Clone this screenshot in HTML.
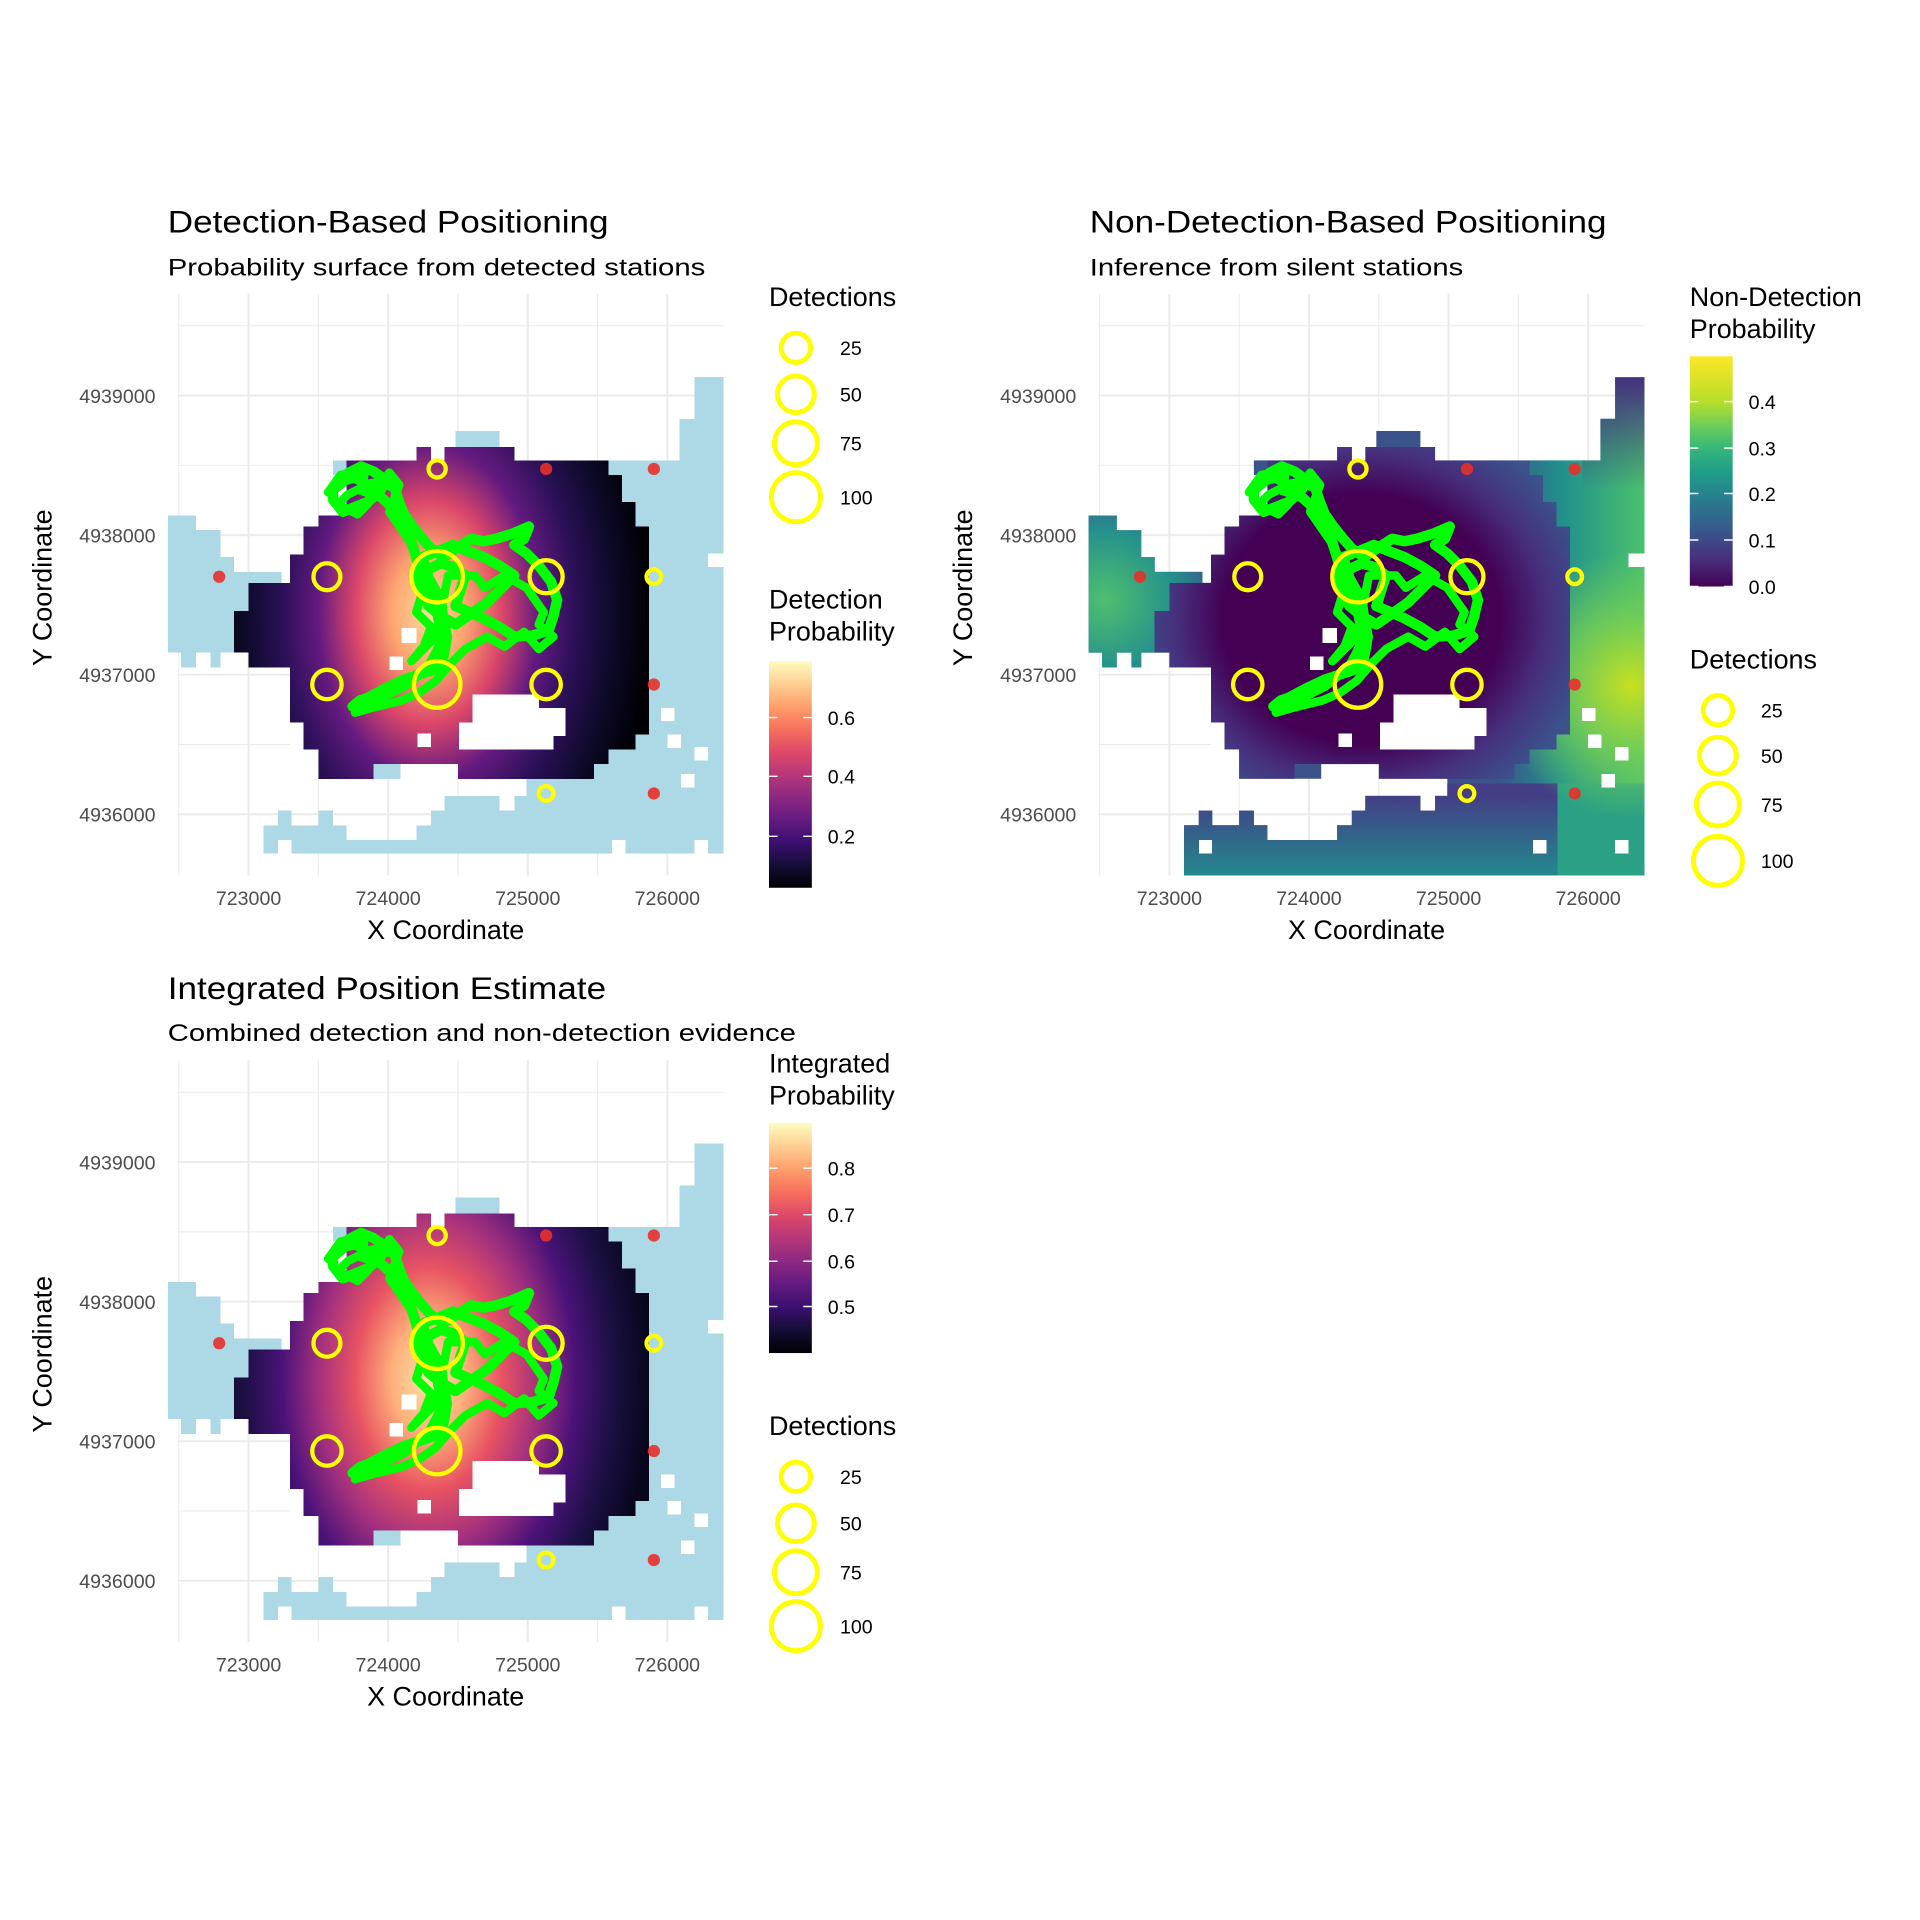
<!DOCTYPE html>
<html><head><meta charset="utf-8"><style>
html,body{margin:0;padding:0;background:#fff;}
svg{display:block;font-family:"Liberation Sans",sans-serif;}
</style></head><body>
<svg width="1920" height="1920" viewBox="0 0 1568 1568" xmlns="http://www.w3.org/2000/svg" xmlns:xlink="http://www.w3.org/1999/xlink">
<defs>
<linearGradient id="mag" x1="0" y1="1" x2="0" y2="0">
<stop offset="0" stop-color="#000004"/><stop offset="0.1" stop-color="#140e36"/><stop offset="0.2" stop-color="#3b0f70"/><stop offset="0.3" stop-color="#641a80"/><stop offset="0.4" stop-color="#8c2981"/><stop offset="0.5" stop-color="#b73779"/><stop offset="0.6" stop-color="#de4968"/><stop offset="0.7" stop-color="#f7705c"/><stop offset="0.8" stop-color="#fe9f6d"/><stop offset="0.9" stop-color="#fecf92"/><stop offset="1" stop-color="#fcfdbf"/>
</linearGradient>
<linearGradient id="vir" x1="0" y1="1" x2="0" y2="0">
<stop offset="0" stop-color="#440154"/><stop offset="0.1" stop-color="#482878"/><stop offset="0.2" stop-color="#3e4a89"/><stop offset="0.3" stop-color="#31688e"/><stop offset="0.4" stop-color="#26828e"/><stop offset="0.5" stop-color="#1f9e89"/><stop offset="0.6" stop-color="#35b779"/><stop offset="0.7" stop-color="#6ece58"/><stop offset="0.8" stop-color="#b5de2b"/><stop offset="1" stop-color="#fde725"/>
</linearGradient>
<radialGradient id="rg1" gradientUnits="userSpaceOnUse" cx="350" cy="500" r="273" gradientTransform="translate(350,500) scale(0.66,1) translate(-350,-500)">
<stop offset="0" stop-color="#fdd9a0"/><stop offset="0.167" stop-color="#fea66f"/><stop offset="0.333" stop-color="#db4769"/><stop offset="0.5" stop-color="#641a80"/><stop offset="0.667" stop-color="#2a1057"/><stop offset="0.833" stop-color="#0e0a2a"/><stop offset="1" stop-color="#000004"/>
</radialGradient>
<radialGradient id="rg3" gradientUnits="userSpaceOnUse" cx="350" cy="500" r="273" gradientTransform="translate(350,500) scale(0.66,1) translate(-350,-500)">
<stop offset="0" stop-color="#fde2a8"/><stop offset="0.167" stop-color="#feb07a"/><stop offset="0.333" stop-color="#e85362"/><stop offset="0.5" stop-color="#a3307e"/><stop offset="0.667" stop-color="#4a1279"/><stop offset="0.833" stop-color="#1c1044"/><stop offset="1" stop-color="#08061d"/>
</radialGradient>
<linearGradient id="v2h" gradientUnits="userSpaceOnUse" x1="470" y1="0" x2="591" y2="0">
<stop offset="0" stop-color="#3b528b"/><stop offset="0.45" stop-color="#21918c"/><stop offset="1" stop-color="#4ac16d"/>
</linearGradient>
<linearGradient id="v2top" gradientUnits="userSpaceOnUse" x1="0" y1="308" x2="0" y2="400">
<stop offset="0" stop-color="#46307e" stop-opacity="1"/><stop offset="1" stop-color="#46307e" stop-opacity="0"/>
</linearGradient>
<linearGradient id="v2bot" gradientUnits="userSpaceOnUse" x1="0" y1="650" x2="0" y2="715">
<stop offset="0" stop-color="#433e85"/><stop offset="1" stop-color="#23898e"/>
</linearGradient>
<radialGradient id="v2y" gradientUnits="userSpaceOnUse" cx="580" cy="560" r="110">
<stop offset="0" stop-color="#c8e020" stop-opacity="1"/><stop offset="0.5" stop-color="#7ad151" stop-opacity="0.8"/><stop offset="1" stop-color="#6ece58" stop-opacity="0"/>
</radialGradient>
<radialGradient id="v2l" gradientUnits="userSpaceOnUse" cx="150" cy="490" r="95">
<stop offset="0" stop-color="#4fbf6f"/><stop offset="0.6" stop-color="#25918c"/><stop offset="1" stop-color="#3b528b"/>
</radialGradient>
<radialGradient id="v2b" gradientUnits="userSpaceOnUse" cx="360" cy="505" r="200" gradientTransform="translate(360,505) scale(0.95,0.85) translate(-360,-505)">
<stop offset="0.6" stop-color="#440154"/><stop offset="0.8" stop-color="#46307e"/><stop offset="1" stop-color="#3b528b"/>
</radialGradient>

<path id="blob" d="M260,421 L283,421 L283,376 L340,376 L340,365 L352,365 L352,376 L363,376 L363,365 L420,365 L420,376 L497,376 L497,388 L508,388 L508,410 L519,410 L519,430 L530,430 L530,600 L519,600 L519,612 L497,612 L497,624 L485,624 L485,636 L374,636 L374,624 L305,624 L305,636 L260,636 L260,612 L248,612 L248,590 L237,590 L237,545 L203,545 L203,533 L191,533 L191,499 L203,499 L203,476 L237,476 L237,453 L248,453 L248,430 L260,430 Z"/>
<path id="holes" d="M386,567 L440,567 L440,578 L462,578 L462,601 L452,601 L452,612 L375,612 L375,590 L386,590 Z M328,513 h12 v12 h-12 Z M318,536 h11 v11 h-11 Z M237,601 h11 v11 h-11 Z M341,599 h11 v11 h-11 Z"/>
<path id="blueL" d="M137,421 L160,421 L160,433 L180,433 L180,455 L191,455 L191,467 L230,467 L230,476 L203,476 L203,499 L191,499 L191,533 L180,533 L180,545 L172,545 L172,533 L160,533 L160,545 L148,545 L148,533 L137,533 Z"/>
<path id="blueR" d="M567,308 L591,308 L591,697 L215,697 L215,674 L227,674 L227,662 L238,662 L238,674 L260,674 L260,662 L272,662 L272,674 L283,674 L283,686 L340,686 L340,674 L352,674 L352,662 L363,662 L363,650 L408,650 L408,662 L420,662 L420,650 L430,650 L430,636 L485,636 L485,624 L497,624 L497,612 L519,612 L519,600 L530,600 L530,430 L519,430 L519,410 L508,410 L508,388 L497,388 L497,376 L555,376 L555,342 L567,342 Z M372,352 L408,352 L408,365 L372,365 Z M305,624 L327,624 L327,636 L305,636 Z M272,376 L283,376 L283,388 L272,388 Z"/>
<path id="blueHoles" d="M545,600 h11 v11 h-11 Z M567,610 h11 v11 h-11 Z M556,632 h11 v11 h-11 Z M500,686 h11 v11 h-11 Z M567,686 h11 v11 h-11 Z M578,452 h13 v11 h-13 Z M540,578 h11 v11 h-11 Z M227,686 h11 v11 h-11 Z"/>

<clipPath id="m2">
<use xlink:href="#blueL"/><use xlink:href="#blueR"/><use xlink:href="#blob"/>
<path d="M215,697 H591 V715 H215 Z M580,342 H591 V308 H580 Z"/>
</clipPath>

<g id="grid" stroke="#ebebeb" fill="none">
<path stroke-width="0.8" d="M146,240V715M260,240V715M374,240V715M488,240V715M145,266H591M145,380H591M145,494H591M145,608H591"/>
<path stroke-width="1.6" d="M203,240V715M317,240V715M431,240V715M545,240V715M145,323H591M145,437H591M145,551H591M145,665H591"/>
</g>

<g id="track">
<polyline fill="none" stroke="#00ff00" stroke-width="8.5" stroke-linejoin="round" stroke-linecap="round" points="275,395 285,386 295,381 305,385 315,392 310,402 300,410 290,414 280,418 272,408 272,400 282,392 290,390 300,396 312,394 322,398 326,410 330,420 337,430 345,440 352,448 362,455 374,447 385,440 395,442 405,440 418,436 432,430 428,440 420,445 430,452 440,462 450,475 455,490 452,503 448,515 435,519 420,520 408,512 395,505 384,500 372,495 376,482 380,470 370,463 360,460 350,465 340,470 345,483 350,495 360,503 372,510 385,501 398,492 410,480 420,470 408,462 395,455 382,450 370,445 358,450 345,455 350,472 355,490 358,505 362,520 357,532 350,545 340,552 330,560 320,565 310,570 298,574 288,577 294,572 300,570 315,562 330,555 345,550 360,545 363,532 365,520 362,505 360,490 350,472 340,455 335,440 330,425 320,414 310,405 295,400"/>
<polyline fill="none" stroke="#00ff00" stroke-width="7" stroke-linejoin="round" stroke-linecap="round" points="268,402 278,388 298,384 296,398 284,404 276,412 292,420 300,412 318,386 326,396 318,418 336,444 346,480 340,500 352,512 346,528 336,540 356,520 366,470 388,470 396,480 412,470 430,480 444,500 440,510 452,520 440,530 428,516 412,528 398,520 380,530 368,542 356,556 342,566 328,572 304,578 290,582"/>
</g>

<g id="stations">
<g fill="#e8302a" opacity="0.9"><circle cx="179" cy="471" r="5"/><circle cx="446" cy="383" r="5"/><circle cx="534" cy="383" r="5"/><circle cx="534" cy="559" r="5"/><circle cx="534" cy="648" r="5"/></g>
<g fill="none" stroke="#ffff00" stroke-width="3.5"><circle cx="357" cy="383" r="7"/><circle cx="267" cy="471" r="11"/><circle cx="357" cy="471" r="21"/><circle cx="446" cy="471" r="13.5"/><circle cx="534" cy="471" r="6"/><circle cx="267" cy="559" r="12"/><circle cx="357" cy="559" r="19"/><circle cx="446" cy="559" r="12"/><circle cx="446" cy="648" r="6"/></g>
</g>
</defs>

<!-- Panel 1 -->
<use xlink:href="#grid"/>
<g shape-rendering="crispEdges">
<use xlink:href="#blueL" fill="#add8e6"/>
<use xlink:href="#blueR" fill="#add8e6"/>
<use xlink:href="#blueHoles" fill="#fff"/>
<use xlink:href="#blob" fill="url(#rg1)"/>
<use xlink:href="#holes" fill="#fff"/>
</g>
<use xlink:href="#track"/>
<use xlink:href="#stations"/>

<!-- Panel 2 -->
<g transform="translate(752,0)">
<use xlink:href="#grid"/>
<g clip-path="url(#m2)" shape-rendering="crispEdges">
<rect x="137" y="300" width="454" height="420" fill="url(#v2h)"/>
<rect x="137" y="640" width="383" height="80" fill="url(#v2bot)"/>
<rect x="520" y="640" width="71" height="80" fill="#2aa085"/>
<rect x="137" y="400" width="110" height="160" fill="url(#v2l)"/>
<rect x="470" y="440" width="121" height="260" fill="url(#v2y)"/>
<rect x="540" y="300" width="51" height="100" fill="url(#v2top)"/>
<use xlink:href="#blob" fill="url(#v2b)"/>
</g>
<g shape-rendering="crispEdges">
<use xlink:href="#blueHoles" fill="#fff"/>
<use xlink:href="#holes" fill="#fff"/>
</g>
<use xlink:href="#track"/>
<use xlink:href="#stations"/>
</g>

<!-- Panel 3 -->
<g transform="translate(0,626)">
<use xlink:href="#grid"/>
<g shape-rendering="crispEdges">
<use xlink:href="#blueL" fill="#add8e6"/>
<use xlink:href="#blueR" fill="#add8e6"/>
<use xlink:href="#blueHoles" fill="#fff"/>
<use xlink:href="#blob" fill="url(#rg3)"/>
<use xlink:href="#holes" fill="#fff"/>
</g>
<use xlink:href="#track"/>
<use xlink:href="#stations"/>
</g>

<!-- tick labels -->
<g font-size="16" fill="#4d4d4d" text-anchor="middle">
<text x="203" y="739">723000</text><text x="317" y="739">724000</text><text x="431" y="739">725000</text><text x="545" y="739">726000</text>
<text x="955" y="739">723000</text><text x="1069" y="739">724000</text><text x="1183" y="739">725000</text><text x="1297" y="739">726000</text>
<text x="203" y="1365">723000</text><text x="317" y="1365">724000</text><text x="431" y="1365">725000</text><text x="545" y="1365">726000</text>
</g>
<g font-size="16" fill="#4d4d4d" text-anchor="end">
<text x="127" y="329">4939000</text><text x="127" y="443">4938000</text><text x="127" y="557">4937000</text><text x="127" y="671">4936000</text>
<text x="879" y="329">4939000</text><text x="879" y="443">4938000</text><text x="879" y="557">4937000</text><text x="879" y="671">4936000</text>
<text x="127" y="955">4939000</text><text x="127" y="1069">4938000</text><text x="127" y="1183">4937000</text><text x="127" y="1297">4936000</text>
</g>

<g font-size="26" fill="#000">
<text x="137" y="190" textLength="360" lengthAdjust="spacingAndGlyphs">Detection-Based Positioning</text>
<text x="890" y="190" textLength="422" lengthAdjust="spacingAndGlyphs">Non-Detection-Based Positioning</text>
<text x="137" y="816" textLength="358" lengthAdjust="spacingAndGlyphs">Integrated Position Estimate</text>
</g>
<g font-size="20" fill="#000">
<text x="137" y="225" textLength="439" lengthAdjust="spacingAndGlyphs">Probability surface from detected stations</text>
<text x="890" y="225" textLength="305" lengthAdjust="spacingAndGlyphs">Inference from silent stations</text>
<text x="137" y="850" textLength="513" lengthAdjust="spacingAndGlyphs">Combined detection and non-detection evidence</text>
</g>
<g font-size="22" fill="#000" text-anchor="middle">
<text x="364" y="767">X Coordinate</text>
<text x="1116" y="767">X Coordinate</text>
<text x="364" y="1393">X Coordinate</text>
<text transform="translate(42,480) rotate(-90)">Y Coordinate</text>
<text transform="translate(794,480) rotate(-90)">Y Coordinate</text>
<text transform="translate(42,1106) rotate(-90)">Y Coordinate</text>
</g>

<g font-size="22" fill="#000">
<text x="628" y="250">Detections</text>
<text x="628" y="497">Detection</text><text x="628" y="523">Probability</text>
<text x="1380" y="250">Non-Detection</text><text x="1380" y="276">Probability</text>
<text x="1380" y="546">Detections</text>
<text x="628" y="876">Integrated</text><text x="628" y="902">Probability</text>
<text x="628" y="1172">Detections</text>
</g>
<rect x="628" y="540" width="35" height="185" fill="url(#mag)"/>
<rect x="1380" y="291" width="35" height="188" fill="url(#vir)"/>
<rect x="628" y="917" width="35" height="188" fill="url(#mag)"/>
<g stroke="#fff" stroke-width="1.2">
<path d="M628 683h7M656 683h7M628 634h7M656 634h7M628 586h7M656 586h7"/>
<path d="M1380 328h7M1408 328h7M1380 366h7M1408 366h7M1380 403h7M1408 403h7M1380 441h7M1408 441h7M1380 479h7M1408 479h7"/>
<path d="M628 954h7M656 954h7M628 992h7M656 992h7M628 1030h7M656 1030h7M628 1067h7M656 1067h7"/>
</g>
<g font-size="16" fill="#000">
<text x="676" y="689">0.2</text><text x="676" y="640">0.4</text><text x="676" y="592">0.6</text>
<text x="1428" y="334">0.4</text><text x="1428" y="372">0.3</text><text x="1428" y="409">0.2</text><text x="1428" y="447">0.1</text><text x="1428" y="485">0.0</text>
<text x="676" y="960">0.8</text><text x="676" y="998">0.7</text><text x="676" y="1036">0.6</text><text x="676" y="1073">0.5</text>
<text x="686" y="290">25</text><text x="686" y="328">50</text><text x="686" y="368">75</text><text x="686" y="412">100</text>
<text x="1438" y="586">25</text><text x="1438" y="623">50</text><text x="1438" y="663">75</text><text x="1438" y="709">100</text>
<text x="686" y="1212">25</text><text x="686" y="1250">50</text><text x="686" y="1290">75</text><text x="686" y="1334">100</text>
</g>
<g fill="none" stroke="#ffff00" stroke-width="4">
<circle cx="650" cy="284" r="12"/><circle cx="650" cy="322" r="15"/><circle cx="650" cy="362" r="17.5"/><circle cx="650" cy="406" r="20"/>
<circle cx="1403" cy="580" r="12"/><circle cx="1403" cy="617" r="15"/><circle cx="1403" cy="657" r="17.5"/><circle cx="1403" cy="703" r="20"/>
<circle cx="650" cy="1206" r="12"/><circle cx="650" cy="1244" r="15"/><circle cx="650" cy="1284" r="17.5"/><circle cx="650" cy="1328" r="20"/>
</g>
</svg>
</body></html>
